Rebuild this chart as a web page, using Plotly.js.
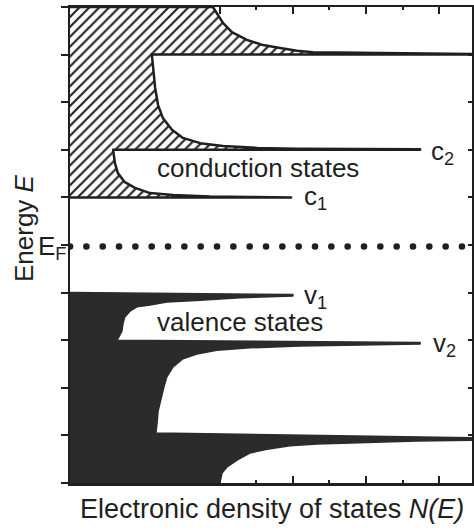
<!DOCTYPE html>
<html>
<head>
<meta charset="utf-8">
<script src="https://cdn.plot.ly/plotly-3.0.1.min.js"></script>
<style>
  html, body { margin: 0; padding: 0; background: #fff; }
  #chart { width: 474px; height: 530px; }
  /* round caps turn the zero-length dashes of the Fermi line into dots */
  #chart path.js-line { stroke-linecap: round; stroke-linejoin: round; }
</style>
</head>
<body>
<div id="chart"></div>
<script>
// Axis extents: N(E) horizontally, energy E vertically
const nRange = [-0.1, 10.9];
const eRange = [0, 10];

// Fermi level
const fermiLevel = 4.97;

// Conduction band: energy at the axis (bottom, top), subband edges and
// how far each edge line runs out in N(E)
const condAxisE = [6.0, 10.0];
const condEdgeE = [6.0, 7.0, 9.0];
const condEdgeN = [5.95, 9.48, 10.9];

// Conduction subbands c1, c2, c3: N(E) falling away above each edge
const c1N = [5.95, 4.82, 3.73, 2.72, 2.09, 1.68, 1.40, 1.21, 1.13, 1.08, 1.08];
const c1E = [6.01, 6.01, 6.02, 6.05, 6.09, 6.20, 6.32, 6.51, 6.72, 6.95, 7.00];
const c2N = [9.48, 6.11, 5.02, 4.09, 3.46, 2.99, 2.69, 2.44, 2.31, 2.23, 2.17, 2.14, 2.14];
const c2E = [7.01, 7.02, 7.04, 7.08, 7.14, 7.25, 7.42, 7.67, 7.94, 8.30, 8.72, 8.97, 9.00];
const c3N = [10.9, 6.55, 6.11, 5.65, 5.18, 4.74, 4.33, 4.09, 3.87, 3.81];
const c3E = [9.01, 9.05, 9.08, 9.14, 9.20, 9.31, 9.47, 9.66, 9.94, 10.0];

// Valence band: energy at the axis (top, bottom), subband edges and line extents
const valAxisE = [4.0, 0.0];
const valEdgeE = [3.96, 2.95, 0.95];
const valEdgeN = [6.0, 9.48, 10.9];

// Valence subbands v1, v2, v3: N(E) falling away below each edge
const v1N = [6.00, 4.55, 3.46, 2.55, 2.09, 1.73, 1.54, 1.40, 1.35, 1.32, 1.19];
const v1E = [3.93, 3.89, 3.84, 3.80, 3.74, 3.70, 3.61, 3.49, 3.35, 3.19, 3.00];
const v2N = [9.48, 7.29, 6.19, 4.82, 3.92, 3.37, 2.99, 2.72, 2.55, 2.48, 2.42, 2.36, 2.31, 2.28, 2.25, 2.25];
const v2E = [2.92, 2.90, 2.88, 2.84, 2.79, 2.71, 2.61, 2.44, 2.23, 2.05, 1.87, 1.69, 1.51, 1.24, 1.07, 1.05];
const v3N = [10.9, 9.39, 7.56, 6.66, 5.92, 5.29, 4.82, 4.47, 4.20, 4.06, 4.00];
const v3E = [0.90, 0.88, 0.84, 0.82, 0.78, 0.71, 0.63, 0.48, 0.34, 0.21, 0.00];

// Text
const condLabels = ['c<sub>1</sub>', 'c<sub>2</sub>'];
const valLabels = ['v<sub>1</sub>', 'v<sub>2</sub>'];
const yTitle = 'Energy <i>E</i>';
const xTitle = 'Electronic density of states <i>N(E)</i>';

// Closed outline of a band: from the axis, out along each edge line,
// back along that subband's curve, and finally back to the axis
function bandOutline(axisE, edgeN, edgeE, curves) {
  const x = [nRange[0]], y = [axisE[0]];
  curves.forEach((c, i) => {
    x.push(edgeN[i]); y.push(edgeE[i]);
    x.push(...c.n); y.push(...c.e);
  });
  x.push(nRange[0]); y.push(axisE[1]);
  return { x, y };
}

const cond = bandOutline(condAxisE, condEdgeN, condEdgeE,
  [{ n: c1N, e: c1E }, { n: c2N, e: c2E }, { n: c3N, e: c3E }]);
const val = bandOutline(valAxisE, valEdgeN, valEdgeE,
  [{ n: v1N, e: v1E }, { n: v2N, e: v2E }, { n: v3N, e: v3E }]);

const ink = '#1f1f1f';
const fontFamily = 'Liberation Sans, Arial, sans-serif';
const font = { family: fontFamily, size: 26, color: ink };
const titleFont = { family: fontFamily, size: 27, color: ink };

const traces = [
  {
    // conduction states, hatched
    x: cond.x, y: cond.y, type: 'scatter', mode: 'lines',
    fill: 'toself', fillcolor: 'white',
    fillpattern: { shape: '/', size: 7, solidity: 0.32, fgcolor: '#262626', bgcolor: 'white', fillmode: 'replace' },
    line: { color: ink, width: 2.5 },
    hoverinfo: 'skip', showlegend: false
  },
  {
    // valence states, solid
    x: val.x, y: val.y, type: 'scatter', mode: 'lines',
    fill: 'toself', fillcolor: '#2b2b2b',
    line: { color: '#2b2b2b', width: 1.5 },
    hoverinfo: 'skip', showlegend: false
  },
  {
    // Fermi level, dotted
    x: nRange, y: [fermiLevel, fermiLevel], yaxis: 'y2',
    type: 'scatter', mode: 'lines',
    line: { color: ink, width: 6.5, dash: '0.1px,16.23px' },
    hoverinfo: 'skip', showlegend: false
  }
];

const labelAnn = (text, n, e) => ({
  text, x: n, y: e, xref: 'x', yref: 'y',
  xanchor: 'left', yanchor: 'middle', showarrow: false, font
});

const annotations = [
  labelAnn(condLabels[0], condEdgeN[0] + 0.3, condEdgeE[0] - 0.01),
  labelAnn(condLabels[1], condEdgeN[1] + 0.24, condEdgeE[1] - 0.05),
  labelAnn(valLabels[0], valEdgeN[0] + 0.25, valEdgeE[0] - 0.05),
  labelAnn(valLabels[1], valEdgeN[1] + 0.3, valEdgeE[1] - 0.03),
  labelAnn('conduction states', 2.23, 6.62),
  labelAnn('valence states', 2.23, 3.38),
  {
    text: 'E<sub>F</sub>', x: -0.005, y: 4.95, xref: 'paper', yref: 'y',
    xanchor: 'right', yanchor: 'middle', showarrow: false, font
  },
  {
    text: yTitle, textangle: -90, x: -0.114, y: 0.536, xref: 'paper', yref: 'paper',
    xanchor: 'center', yanchor: 'middle', showarrow: false, font
  },
  {
    text: xTitle, x: 0.502, y: -0.055, xref: 'paper', yref: 'paper',
    xanchor: 'center', yanchor: 'middle', showarrow: false, font: titleFont
  }
];

const layout = {
  width: 474, height: 530,
  margin: { l: 70, r: 2, t: 7, b: 47 },
  paper_bgcolor: 'white', plot_bgcolor: 'white',
  showlegend: false,
  xaxis: {
    range: nRange, showgrid: false, zeroline: false, showticklabels: false,
    showline: true, linecolor: ink, linewidth: 2.5, mirror: 'ticks',
    ticks: 'inside', tick0: 0, dtick: 2, ticklen: 7, tickwidth: 2, tickcolor: ink,
    minor: { ticks: 'inside', tick0: 0, dtick: 1, ticklen: 3, tickwidth: 2, tickcolor: ink, showgrid: false },
    layer: 'below traces', fixedrange: true
  },
  yaxis: {
    range: eRange, showgrid: false, zeroline: false, showticklabels: false,
    showline: true, linecolor: ink, linewidth: 2.5,
    ticks: 'outside', tick0: 0, dtick: 1, ticklen: 7, tickwidth: 2, tickcolor: ink,
    layer: 'below traces', fixedrange: true
  },
  yaxis2: {
    range: eRange, overlaying: 'y', side: 'right',
    showgrid: false, zeroline: false, showticklabels: false,
    showline: true, linecolor: ink, linewidth: 2.5,
    ticks: 'inside', tick0: 0, dtick: 1, ticklen: 4, tickwidth: 2, tickcolor: ink,
    fixedrange: true
  },
  annotations
};

Plotly.newPlot('chart', traces, layout, { staticPlot: true, displayModeBar: false });
</script>
</body>
</html>
